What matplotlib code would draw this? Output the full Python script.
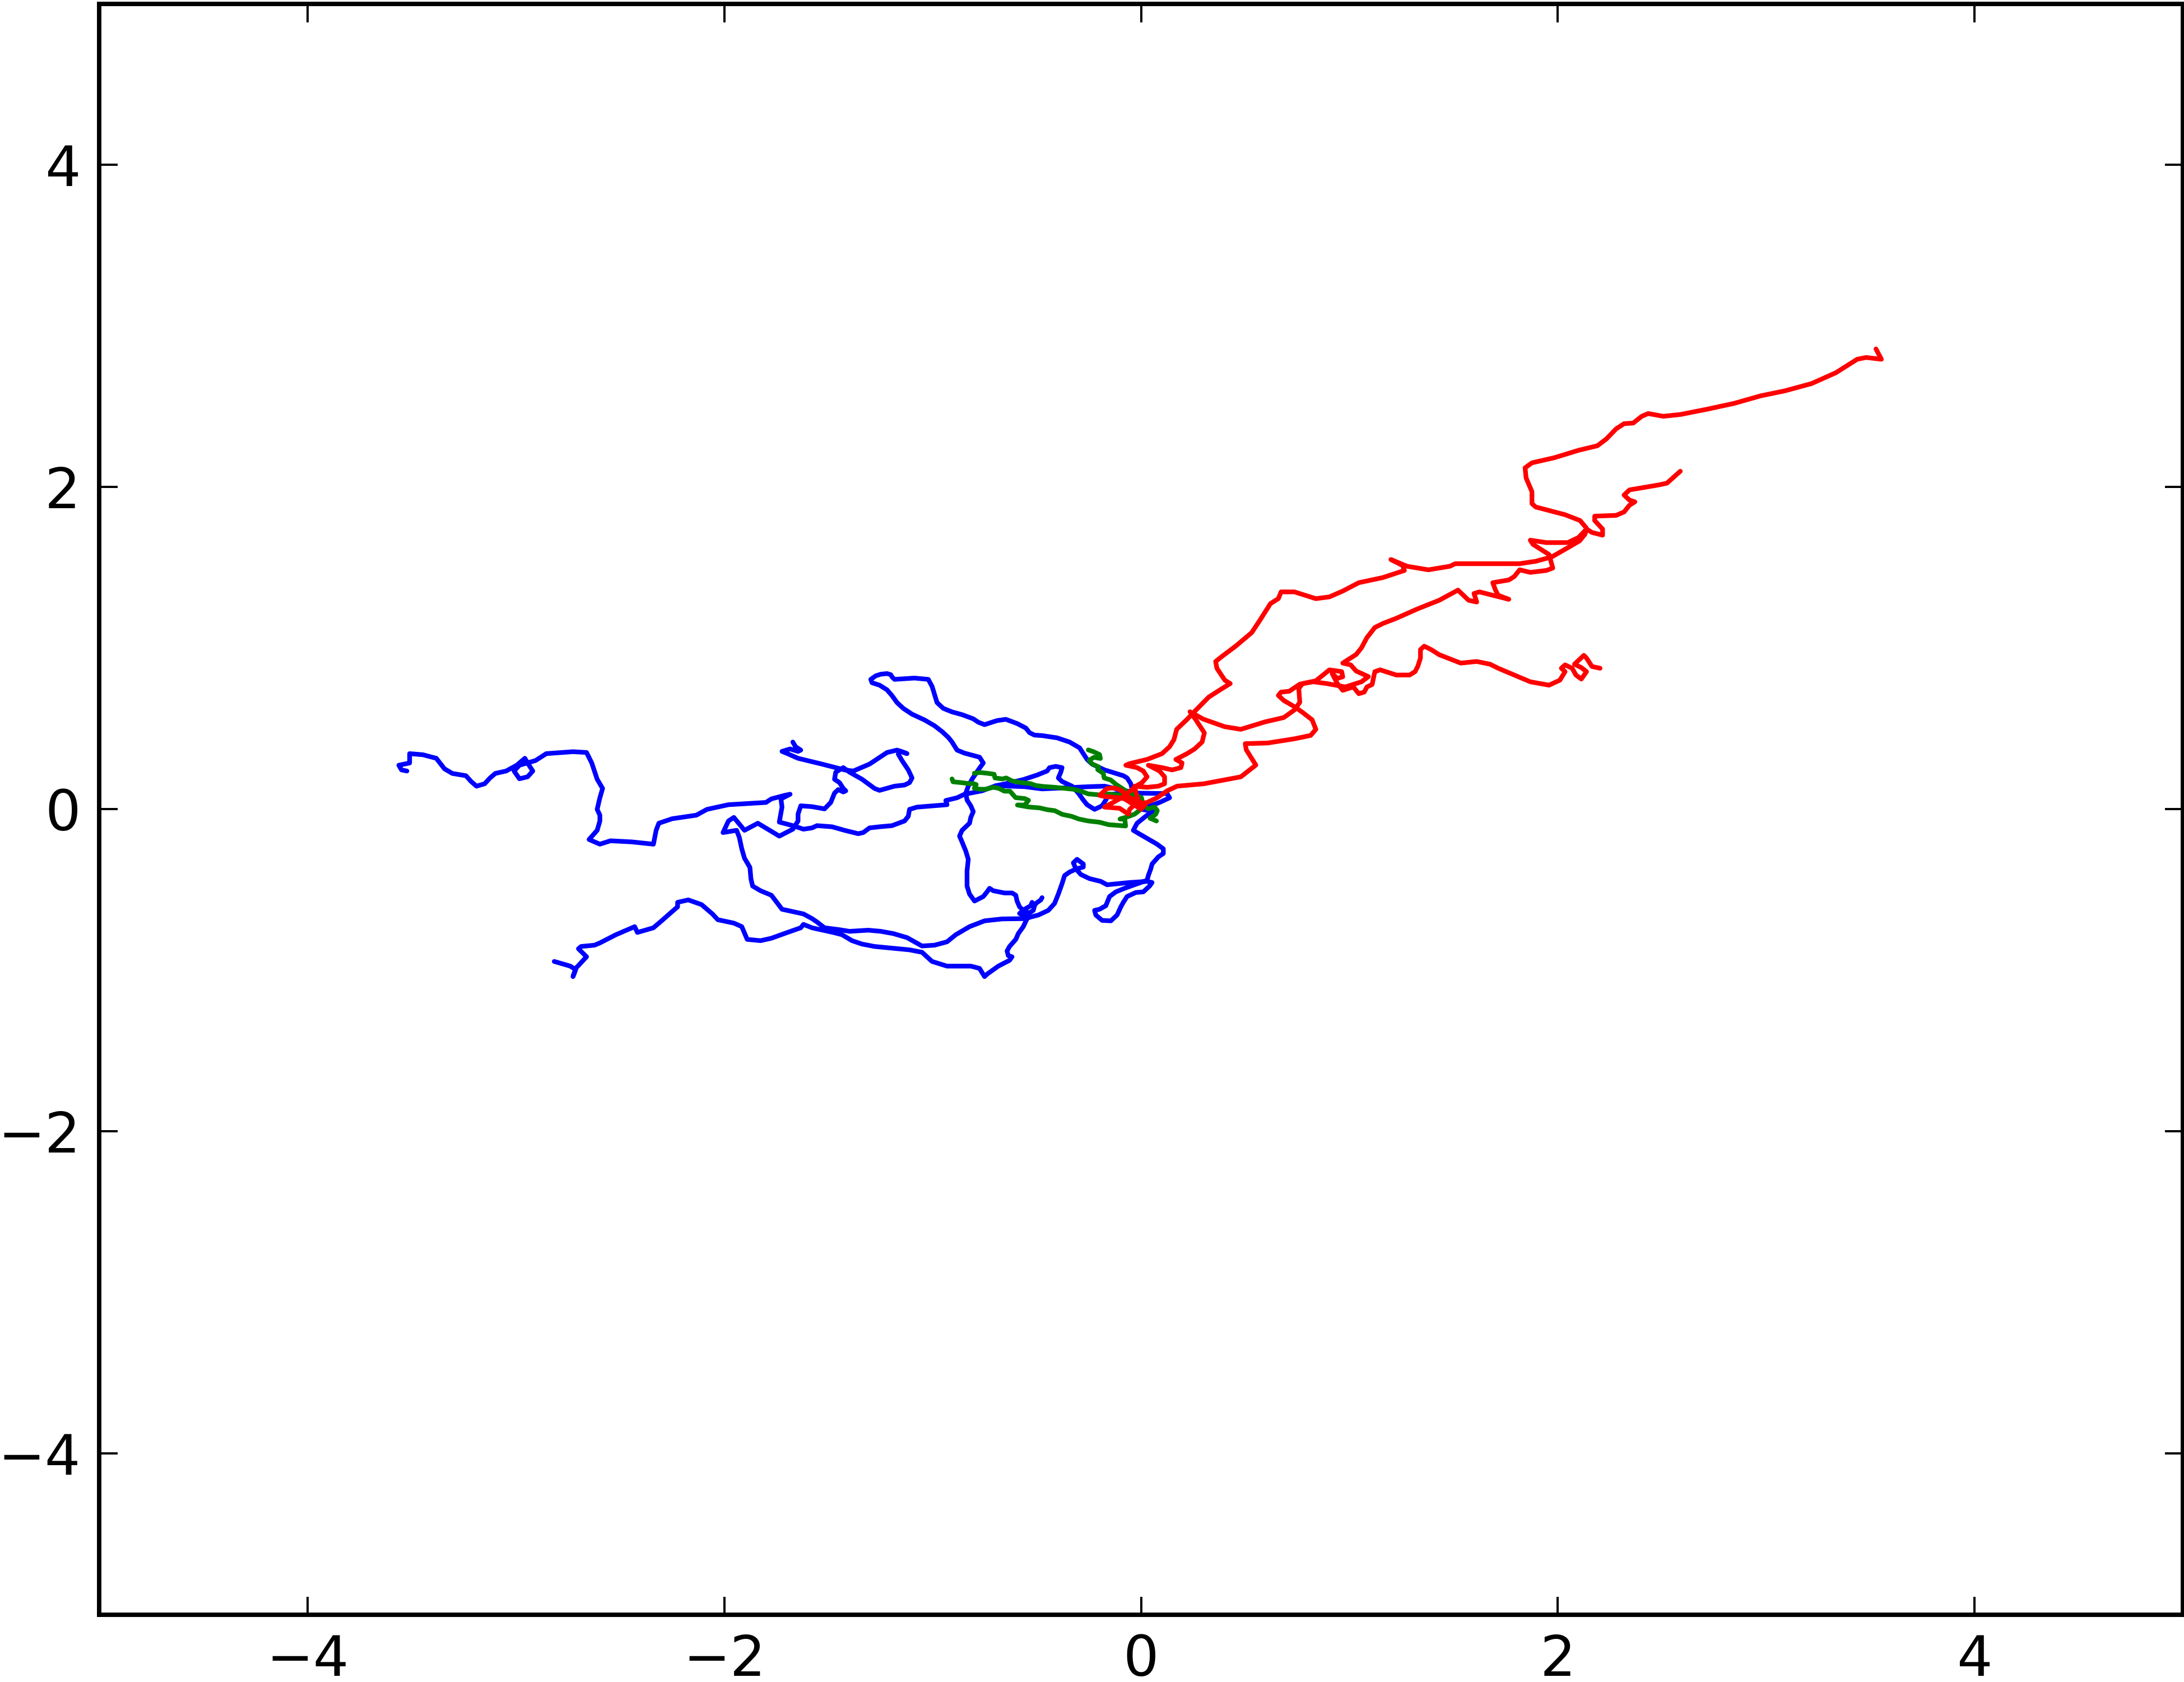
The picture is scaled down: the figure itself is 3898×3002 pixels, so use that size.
import numpy as np
import matplotlib
matplotlib.use("Agg")
import matplotlib.pyplot as plt

# random-walk style trajectories, all starting near the origin (x, y pairs)

blue_walk_1 = np.array([
    (0.000, 0.000), (0.089, 0.042), (0.137, 0.071), (0.125, 0.097), (-0.019, 0.100),
    (-0.103, 0.122), (-0.175, 0.143), (-0.247, 0.140), (-0.379, 0.132), (-0.475, 0.126),
    (-0.559, 0.140), (-0.697, 0.146), (-0.763, 0.114), (-0.847, 0.093), (-0.883, 0.071),
    (-0.937, 0.054), (-0.931, 0.028), (-1.075, 0.013), (-1.111, -0.001), (-1.117, -0.044),
    (-1.135, -0.073), (-1.195, -0.102), (-1.255, -0.109), (-1.303, -0.116), (-1.333, -0.145),
    (-1.357, -0.152), (-1.423, -0.131), (-1.483, -0.109), (-1.555, -0.102), (-1.579, -0.116),
    (-1.620, -0.124), (-1.671, -0.102), (-1.736, -0.080), (-1.723, 0.013), (-1.728, 0.064),
    (-1.684, 0.093), (-1.710, 0.086), (-1.774, 0.064), (-1.800, 0.042), (-1.980, 0.028),
    (-2.083, -0.001), (-2.134, -0.037), (-2.250, -0.059), (-2.314, -0.087), (-2.327, -0.131),
    (-2.340, -0.217), (-2.443, -0.203), (-2.546, -0.196), (-2.597, -0.217), (-2.649, -0.188),
    (-2.610, -0.131), (-2.597, -0.073), (-2.597, -0.037), (-2.610, -0.001), (-2.597, 0.071),
    (-2.584, 0.129), (-2.610, 0.186), (-2.636, 0.287), (-2.661, 0.352), (-2.726, 0.357),
    (-2.854, 0.345), (-2.906, 0.302), (-2.983, 0.273), (-3.009, 0.237), (-2.983, 0.189),
    (-2.944, 0.201), (-2.919, 0.237), (-2.944, 0.287), (-2.957, 0.316), (-2.996, 0.273),
    (-3.047, 0.237), (-3.099, 0.222), (-3.124, 0.194), (-3.150, 0.158), (-3.189, 0.143),
    (-3.215, 0.172), (-3.240, 0.208), (-3.305, 0.222), (-3.343, 0.251), (-3.382, 0.316),
    (-3.446, 0.338), (-3.510, 0.345), (-3.510, 0.287), (-3.562, 0.273), (-3.549, 0.244),
    (-3.523, 0.237),
])

blue_walk_2 = np.array([
    (0.000, 0.000), (-0.030, 0.060), (-0.043, 0.122), (-0.049, 0.158), (-0.067, 0.194),
    (-0.085, 0.208), (-0.175, 0.244), (-0.235, 0.280), (-0.259, 0.309), (-0.295, 0.381),
    (-0.343, 0.417), (-0.403, 0.443), (-0.475, 0.457), (-0.511, 0.460), (-0.535, 0.475),
    (-0.553, 0.504), (-0.595, 0.532), (-0.649, 0.558), (-0.691, 0.550), (-0.751, 0.525),
    (-0.781, 0.540), (-0.805, 0.561), (-0.859, 0.587), (-0.907, 0.604), (-0.949, 0.626),
    (-0.979, 0.662), (-1.003, 0.763), (-1.021, 0.806), (-1.087, 0.814), (-1.183, 0.806),
    (-1.195, 0.821), (-1.201, 0.835), (-1.219, 0.842), (-1.249, 0.838), (-1.273, 0.828),
    (-1.297, 0.806), (-1.291, 0.785), (-1.255, 0.770), (-1.219, 0.741), (-1.195, 0.705),
    (-1.171, 0.662), (-1.141, 0.626), (-1.099, 0.590), (-1.039, 0.554), (-0.991, 0.518),
    (-0.955, 0.482), (-0.925, 0.446), (-0.907, 0.417), (-0.883, 0.367), (-0.847, 0.348),
    (-0.775, 0.323), (-0.757, 0.287), (-0.781, 0.244), (-0.811, 0.186), (-0.829, 0.143),
    (-0.841, 0.100), (-0.835, 0.057), (-0.817, 0.021), (-0.805, -0.015), (-0.817, -0.051),
    (-0.823, -0.087), (-0.859, -0.131), (-0.871, -0.167), (-0.859, -0.203), (-0.841, -0.260),
    (-0.829, -0.311), (-0.835, -0.383), (-0.835, -0.477), (-0.823, -0.527), (-0.799, -0.570),
    (-0.757, -0.542), (-0.739, -0.513), (-0.727, -0.491), (-0.709, -0.506), (-0.655, -0.520),
    (-0.619, -0.520), (-0.601, -0.534), (-0.595, -0.570), (-0.583, -0.606), (-0.559, -0.635),
    (-0.535, -0.643), (-0.517, -0.628), (-0.511, -0.599), (-0.505, -0.585), (-0.481, -0.563),
    (-0.475, -0.549),
])

blue_walk_3 = np.array([
    (0.000, 0.000), (0.065, -0.015), (0.029, -0.037), (-0.019, -0.087), (-0.037, -0.131),
    (-0.019, -0.145), (0.029, -0.181), (0.077, -0.217), (0.107, -0.246), (0.107, -0.275),
    (0.083, -0.296), (0.053, -0.340), (0.047, -0.369), (0.035, -0.412), (0.029, -0.441),
    (-0.079, -0.491), (-0.121, -0.513), (-0.151, -0.542), (-0.169, -0.599), (-0.199, -0.621),
    (-0.223, -0.628), (-0.217, -0.657), (-0.187, -0.690), (-0.145, -0.693), (-0.115, -0.657),
    (-0.097, -0.606), (-0.085, -0.578), (-0.067, -0.542), (-0.025, -0.517), (0.011, -0.513),
    (0.041, -0.477), (0.053, -0.455), (0.029, -0.448), (-0.055, -0.455), (-0.163, -0.469),
    (-0.193, -0.448), (-0.247, -0.431), (-0.289, -0.405), (-0.313, -0.369), (-0.325, -0.333),
    (-0.307, -0.311), (-0.277, -0.340), (-0.277, -0.359), (-0.307, -0.369), (-0.343, -0.390),
    (-0.367, -0.412), (-0.379, -0.462), (-0.397, -0.527), (-0.415, -0.585), (-0.445, -0.628),
    (-0.493, -0.657), (-0.535, -0.671), (-0.559, -0.664), (-0.583, -0.647), (-0.559, -0.621),
    (-0.529, -0.599), (-0.523, -0.578),
])

blue_walk_4 = np.array([
    (-0.535, -0.671), (-0.547, -0.679), (-0.565, -0.729), (-0.589, -0.772), (-0.601, -0.808),
    (-0.631, -0.852), (-0.643, -0.880), (-0.637, -0.909), (-0.619, -0.916), (-0.631, -0.938),
    (-0.685, -0.974), (-0.739, -1.024), (-0.751, -1.039), (-0.775, -0.988), (-0.817, -0.974),
    (-0.931, -0.974), (-1.003, -0.945), (-1.051, -0.888), (-1.111, -0.873), (-1.279, -0.852),
    (-1.339, -0.837), (-1.387, -0.816), (-1.435, -0.779), (-1.477, -0.765), (-1.555, -0.743),
    (-1.579, -0.736), (-1.620, -0.715), (-1.633, -0.736), (-1.697, -0.765), (-1.774, -0.801),
    (-1.826, -0.816), (-1.890, -0.808), (-1.916, -0.729), (-1.954, -0.707), (-2.031, -0.686),
    (-2.057, -0.650), (-2.109, -0.592), (-2.173, -0.563), (-2.224, -0.578), (-2.224, -0.606),
    (-2.250, -0.635), (-2.301, -0.693), (-2.340, -0.736), (-2.417, -0.765), (-2.430, -0.729),
    (-2.520, -0.779), (-2.597, -0.830), (-2.623, -0.844), (-2.687, -0.852), (-2.700, -0.866),
    (-2.661, -0.916), (-2.687, -0.952), (-2.713, -0.988), (-2.726, -1.039), (-2.713, -0.996),
    (-2.739, -0.974), (-2.816, -0.945),
])

blue_walk_5 = np.array([
    (-0.547, -0.679), (-0.667, -0.681), (-0.751, -0.693), (-0.823, -0.729), (-0.889, -0.779),
    (-0.931, -0.823), (-0.991, -0.844), (-1.051, -0.849), (-1.123, -0.797), (-1.189, -0.772),
    (-1.249, -0.758), (-1.309, -0.751), (-1.399, -0.758), (-1.447, -0.748), (-1.519, -0.736),
    (-1.555, -0.700), (-1.579, -0.679), (-1.620, -0.650), (-1.723, -0.621), (-1.748, -0.578),
    (-1.774, -0.534), (-1.826, -0.506), (-1.864, -0.477), (-1.872, -0.433), (-1.877, -0.361),
    (-1.903, -0.304), (-1.916, -0.246), (-1.928, -0.174), (-1.941, -0.131), (-2.006, -0.145),
    (-1.980, -0.073), (-1.954, -0.051), (-1.903, -0.131), (-1.839, -0.087), (-1.736, -0.167),
    (-1.671, -0.124), (-1.646, -0.073), (-1.646, -0.030), (-1.633, 0.021), (-1.579, 0.016),
    (-1.519, 0.002), (-1.489, 0.042), (-1.471, 0.100), (-1.453, 0.122), (-1.429, 0.107),
    (-1.417, 0.114), (-1.429, 0.129), (-1.447, 0.165), (-1.471, 0.186), (-1.465, 0.230),
    (-1.429, 0.258), (-1.399, 0.230), (-1.339, 0.186), (-1.279, 0.129), (-1.255, 0.117),
    (-1.183, 0.143), (-1.135, 0.150), (-1.111, 0.165), (-1.099, 0.194), (-1.117, 0.244),
    (-1.147, 0.302), (-1.165, 0.342), (-1.159, 0.362), (-1.123, 0.345), (-1.171, 0.367),
    (-1.219, 0.352), (-1.303, 0.280), (-1.381, 0.237), (-1.423, 0.244), (-1.531, 0.280),
    (-1.579, 0.295), (-1.646, 0.316), (-1.697, 0.345), (-1.723, 0.359), (-1.684, 0.374),
    (-1.646, 0.359), (-1.633, 0.367), (-1.658, 0.388), (-1.671, 0.417),
])

blue_walk_6 = np.array([
    (-0.697, 0.146), (-0.643, 0.160), (-0.565, 0.184), (-0.499, 0.212), (-0.451, 0.237),
    (-0.439, 0.258), (-0.409, 0.266), (-0.379, 0.258), (-0.385, 0.230), (-0.397, 0.194),
    (-0.379, 0.172), (-0.331, 0.143), (-0.301, 0.100), (-0.277, 0.057), (-0.259, 0.028),
    (-0.223, -0.001), (-0.187, 0.021), (-0.169, 0.057), (-0.157, 0.088), (-0.103, 0.100),
    (-0.055, 0.100),
])

green_walk_1 = np.array([
    (0.074, -0.073), (0.043, -0.056), (0.070, -0.032), (0.078, -0.009), (0.065, 0.014),
    (0.034, 0.002), (0.015, 0.020), (0.006, 0.049), (0.002, 0.072), (-0.029, 0.089),
    (-0.065, 0.107), (-0.092, 0.130), (-0.119, 0.153), (-0.146, 0.182), (-0.177, 0.194),
    (-0.181, 0.223), (-0.208, 0.246), (-0.204, 0.263), (-0.235, 0.281), (-0.249, 0.304),
    (-0.226, 0.322), (-0.195, 0.315), (-0.199, 0.339), (-0.226, 0.356), (-0.253, 0.368),
])

green_walk_2 = np.array([
    (0.000, 0.000), (0.006, 0.049), (-0.029, 0.060), (-0.074, 0.083), (-0.110, 0.089),
    (-0.155, 0.095), (-0.199, 0.089), (-0.253, 0.095), (-0.289, 0.112), (-0.325, 0.124),
    (-0.370, 0.130), (-0.414, 0.136), (-0.468, 0.141), (-0.504, 0.147), (-0.531, 0.159),
    (-0.576, 0.165), (-0.620, 0.176), (-0.647, 0.194), (-0.665, 0.188), (-0.701, 0.194),
    (-0.705, 0.217), (-0.737, 0.223), (-0.773, 0.228), (-0.800, 0.223),
])

green_walk_3 = np.array([
    (0.000, 0.000), (-0.030, -0.030), (-0.060, -0.045), (-0.101, -0.061), (-0.078, -0.061),
    (-0.074, -0.104), (-0.155, -0.096), (-0.199, -0.081), (-0.253, -0.073), (-0.298, -0.061),
    (-0.334, -0.044), (-0.378, -0.032), (-0.414, -0.009), (-0.450, -0.003), (-0.486, 0.008),
    (-0.540, 0.014), (-0.593, 0.026), (-0.558, 0.026), (-0.540, 0.055), (-0.558, 0.066),
    (-0.602, 0.072), (-0.629, 0.112), (-0.656, 0.112), (-0.683, 0.130), (-0.710, 0.136),
    (-0.746, 0.124), (-0.773, 0.124), (-0.800, 0.130), (-0.791, 0.153), (-0.804, 0.159),
    (-0.826, 0.159), (-0.862, 0.165), (-0.902, 0.170), (-0.907, 0.188),
])

red_walk_1 = np.array([
    (0.000, 0.000), (0.020, 0.030), (-0.079, 0.086), (-0.043, 0.122), (-0.025, 0.143),
    (0.005, 0.165), (0.029, 0.201), (0.011, 0.237), (-0.019, 0.258), (-0.073, 0.273),
    (-0.055, 0.283), (0.029, 0.309), (0.101, 0.345), (0.137, 0.388), (0.158, 0.432),
    (0.171, 0.496), (0.222, 0.559), (0.261, 0.612), (0.325, 0.696), (0.389, 0.749),
    (0.428, 0.780), (0.402, 0.801), (0.364, 0.875), (0.358, 0.917), (0.389, 0.949),
    (0.454, 1.012), (0.531, 1.096), (0.569, 1.170), (0.621, 1.276), (0.659, 1.307),
    (0.672, 1.349), (0.736, 1.349), (0.839, 1.307), (0.904, 1.318), (0.968, 1.354),
    (1.045, 1.406), (1.161, 1.438), (1.264, 1.482), (1.256, 1.512), (1.199, 1.550),
    (1.277, 1.508), (1.379, 1.486), (1.482, 1.508), (1.508, 1.524), (1.817, 1.524),
    (1.894, 1.539), (1.971, 1.566), (2.048, 1.623), (2.105, 1.666), (2.131, 1.708),
    (2.138, 1.744), (2.107, 1.792), (2.035, 1.828), (1.894, 1.876), (1.876, 1.897),
    (1.876, 1.971), (1.848, 2.056), (1.843, 2.119), (1.876, 2.150), (1.984, 2.182),
    (2.100, 2.228), (2.190, 2.256), (2.233, 2.298), (2.280, 2.361), (2.318, 2.393),
    (2.362, 2.397), (2.403, 2.439), (2.434, 2.456), (2.506, 2.439), (2.588, 2.450),
    (2.717, 2.483), (2.846, 2.519), (2.974, 2.566), (3.090, 2.597), (3.218, 2.642),
    (3.334, 2.709), (3.437, 2.793), (3.480, 2.804), (3.553, 2.793), (3.527, 2.857),
])

red_walk_2 = np.array([
    (0.000, 0.000), (-0.079, 0.064), (-0.103, 0.071), (-0.175, 0.079), (-0.199, 0.086),
    (-0.163, 0.129), (-0.127, 0.132), (-0.091, 0.114), (-0.073, 0.086), (-0.130, 0.045),
    (-0.175, 0.013), (-0.103, 0.006), (-0.061, -0.030), (-0.055, -0.001), (-0.031, 0.028),
    (0.029, 0.042), (0.077, 0.071), (0.125, 0.114), (0.173, 0.143), (0.302, 0.158),
    (0.479, 0.201), (0.551, 0.274), (0.505, 0.369), (0.500, 0.407), (0.608, 0.411),
    (0.736, 0.437), (0.814, 0.458), (0.839, 0.496), (0.821, 0.555), (0.775, 0.601),
    (0.742, 0.632), (0.685, 0.675), (0.659, 0.706), (0.672, 0.727), (0.711, 0.732),
    (0.762, 0.776), (0.826, 0.791), (0.891, 0.780), (0.981, 0.759), (1.058, 0.791),
    (1.091, 0.823), (1.032, 0.858), (1.006, 0.896), (0.968, 0.907), (1.032, 0.960),
    (1.058, 1.002), (1.084, 1.065), (1.122, 1.128), (1.161, 1.153), (1.225, 1.185),
    (1.328, 1.244), (1.431, 1.297), (1.521, 1.360), (1.547, 1.328), (1.572, 1.297),
    (1.611, 1.286), (1.598, 1.339), (1.624, 1.349), (1.688, 1.328), (1.765, 1.303),
    (1.714, 1.328), (1.701, 1.360), (1.688, 1.406), (1.765, 1.423), (1.791, 1.444),
    (1.817, 1.486), (1.868, 1.470), (1.945, 1.482), (1.976, 1.497), (1.958, 1.581),
    (1.881, 1.644), (1.868, 1.670), (1.945, 1.655), (2.048, 1.655), (2.100, 1.687),
    (2.138, 1.739), (2.164, 1.718), (2.215, 1.701), (2.215, 1.739), (2.177, 1.792),
    (2.177, 1.819), (2.280, 1.824), (2.318, 1.845), (2.344, 1.887), (2.370, 1.908),
    (2.344, 1.919), (2.318, 1.950), (2.344, 1.982), (2.485, 2.013), (2.524, 2.024),
    (2.588, 2.098),
])

red_walk_3 = np.array([
    (0.000, 0.000), (-0.020, 0.080), (-0.031, 0.143), (0.029, 0.136), (0.083, 0.143),
    (0.113, 0.158), (0.113, 0.201), (0.089, 0.237), (0.035, 0.273), (0.101, 0.258),
    (0.149, 0.244), (0.191, 0.258), (0.197, 0.287), (0.167, 0.309), (0.221, 0.345),
    (0.257, 0.374), (0.293, 0.417), (0.304, 0.474), (0.261, 0.559), (0.235, 0.605),
    (0.299, 0.559), (0.402, 0.512), (0.479, 0.496), (0.595, 0.542), (0.685, 0.569),
    (0.736, 0.616), (0.762, 0.664), (0.757, 0.749), (0.775, 0.780), (0.839, 0.797),
    (0.904, 0.865), (0.963, 0.854), (0.968, 0.822), (0.942, 0.812), (0.917, 0.843),
    (0.942, 0.780), (0.968, 0.738), (1.019, 0.759), (1.045, 0.717), (1.071, 0.727),
    (1.084, 0.759), (1.109, 0.774), (1.122, 0.854), (1.148, 0.865), (1.225, 0.833),
    (1.289, 0.833), (1.315, 0.854), (1.328, 0.886), (1.341, 0.938), (1.341, 0.991),
    (1.359, 1.012), (1.392, 0.991), (1.431, 0.959), (1.534, 0.907), (1.611, 0.917),
    (1.675, 0.900), (1.714, 0.875), (1.791, 0.833), (1.868, 0.791), (1.958, 0.770),
    (2.010, 0.801), (2.035, 0.854), (2.017, 0.875), (2.035, 0.896), (2.069, 0.875),
    (2.087, 0.833), (2.113, 0.808), (2.138, 0.854), (2.113, 0.879), (2.080, 0.900),
    (2.125, 0.955), (2.138, 0.938), (2.164, 0.886), (2.203, 0.875),
])

blue_walks = [blue_walk_1, blue_walk_2, blue_walk_3, blue_walk_4, blue_walk_5, blue_walk_6]
green_walks = [green_walk_1, green_walk_2, green_walk_3]
red_walks = [red_walk_1, red_walk_2, red_walk_3]

tick_values = [-4, -2, 0, 2, 4]

fig = plt.figure(figsize=(3898 / 300, 3002 / 300), dpi=300)
ax = fig.add_axes([0.0454, 0.0400, 0.9541, 0.9578])

# blue under green under red, like the original
for walk in blue_walks:
    ax.plot(walk[:, 0], walk[:, 1], color="#0000ff", lw=2.0,
            solid_capstyle="round", solid_joinstyle="round")
for walk in green_walks:
    ax.plot(walk[:, 0], walk[:, 1], color="#008000", lw=2.0,
            solid_capstyle="round", solid_joinstyle="round")
for walk in red_walks:
    ax.plot(walk[:, 0], walk[:, 1], color="#ff0000", lw=2.0,
            solid_capstyle="round", solid_joinstyle="round")

ax.set_xlim(-5, 5)
ax.set_ylim(-5, 5)
ax.set_xticks(tick_values)
ax.set_yticks(tick_values)
ax.tick_params(direction="in", top=True, right=True, length=7.8, width=0.95,
               labelsize=24, pad=8.0)
for spine in ax.spines.values():
    spine.set_linewidth(1.9)

fig.savefig("out.png", dpi=300)
